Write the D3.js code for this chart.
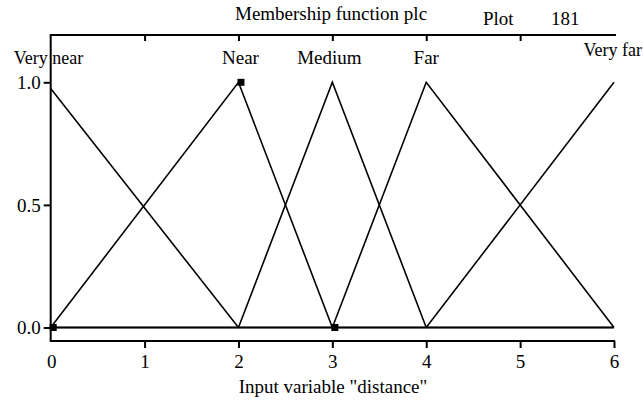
<!DOCTYPE html>
<html>
<head>
<meta charset="utf-8">
<script src="https://cdn.jsdelivr.net/npm/d3@7"></script>
<style>
  html, body { margin: 0; padding: 0; background: #fff; }
  svg { display: block; }
  text { font-family: "Liberation Serif", "Times New Roman", serif; fill: #000; }
</style>
</head>
<body>
<svg id="chart" width="644" height="404"></svg>
<script>
// Membership functions of the input variable "distance" (breakpoints x, membership y)
const setNames = ["Very near", "Near", "Medium", "Far", "Very far"];
const veryNearX = [0, 2, 6];
const veryNearY = [0.975, 0, 0];
const nearX = [0, 2, 3, 6];
const nearY = [0, 1, 0, 0];
const mediumX = [0, 2, 3, 4, 6];
const mediumY = [0, 0, 1, 0, 0];
const farX = [0, 3, 4, 6];
const farY = [0, 0, 1, 0];
const veryFarX = [0, 4, 6];
const veryFarY = [0, 0, 1];
// Label position of each set name along the x axis
const nameAt = [0, 2, 3, 4, 6];

const xTicksBottom = [1, 2, 3, 4, 5, 6];
const xTicksTop = [1, 2, 3, 4, 5];
const yTicks = [0, 0.5, 1];

const titleText = "Membership function plc";
const plotLabel = "Plot";
const plotNumber = "181";
const xTitle = 'Input variable "distance"';

const fontSize = "19px";
const svg = d3.select("#chart");
const x = d3.scaleLinear().domain([0, 6]).range([50.7, 614]);
const y = d3.scaleLinear().domain([0, 1]).range([327.5, 82.3]);
const frameTop = 35, frameBottom = 341, frameRight = 616;

// Frame lines
const frame = svg.append("g").attr("stroke", "#000").attr("stroke-width", 2).attr("fill", "none");
frame.append("line").attr("x1", x(0)).attr("x2", x(0)).attr("y1", frameTop - 1).attr("y2", frameBottom + 1);
frame.append("line").attr("x1", x(0)).attr("x2", x(6) + 1).attr("y1", frameBottom).attr("y2", frameBottom);
frame.append("line").attr("x1", x(0)).attr("x2", frameRight).attr("y1", frameTop).attr("y2", frameTop);

// Bottom axis
const xAxis = svg.append("g")
  .attr("transform", `translate(0,${frameBottom})`)
  .call(d3.axisBottom(x).tickValues(xTicksBottom).tickSize(7).tickSizeOuter(0).tickFormat(d3.format("d")));
xAxis.select(".domain").remove();
xAxis.selectAll(".tick line").attr("stroke", "#000").attr("stroke-width", 2);
xAxis.selectAll(".tick text").attr("y", 27).attr("dy", 0).style("font-size", fontSize)
  .style("font-family", "Liberation Serif, serif");
// the 0 label sits under the corner, without a tick mark
xAxis.append("text").attr("x", x(0) + 1).attr("y", 27).attr("text-anchor", "middle")
  .style("font-size", fontSize).style("font-family", "Liberation Serif, serif").text("0");

// Top axis: inner ticks only
const topAxis = svg.append("g")
  .attr("transform", `translate(0,${frameTop})`)
  .call(d3.axisBottom(x).tickValues(xTicksTop).tickSize(6).tickSizeOuter(0).tickFormat(""));
topAxis.select(".domain").remove();
topAxis.selectAll(".tick line").attr("stroke", "#000").attr("stroke-width", 2);

// Left axis
const yAxis = svg.append("g")
  .attr("transform", `translate(${x(0)},0)`)
  .call(d3.axisLeft(y).tickValues(yTicks).tickSize(7).tickSizeOuter(0).tickFormat(d3.format(".1f")));
yAxis.select(".domain").remove();
yAxis.selectAll(".tick line").attr("stroke", "#000").attr("stroke-width", 2);
yAxis.selectAll(".tick text").attr("x", -10).attr("dy", "0.34em").style("font-size", fontSize)
  .style("font-family", "Liberation Serif, serif");

// Membership function lines
const sets = [
  { xs: veryNearX, ys: veryNearY },
  { xs: nearX, ys: nearY },
  { xs: mediumX, ys: mediumY },
  { xs: farX, ys: farY },
  { xs: veryFarX, ys: veryFarY }
];
const line = d3.line().x(d => x(d[0])).y(d => y(d[1]));
svg.append("g").selectAll("path").data(sets).join("path")
  .attr("d", s => line(s.xs.map((v, i) => [v, s.ys[i]])))
  .attr("fill", "none").attr("stroke", "#000").attr("stroke-width", 1.6)
  .attr("stroke-linejoin", "miter");

// Square markers on the vertices of "Near"
const nearPts = nearX.slice(0, 3).map((v, i) => [v, nearY[i]]);
svg.append("g").selectAll("rect").data(nearPts).join("rect")
  .attr("x", d => x(d[0]) + 2.5 - 3.5).attr("y", d => y(d[1]) - 3.5)
  .attr("width", 7).attr("height", 7).attr("fill", "#000");

// Set names above their peaks
const nameG = svg.append("g").style("font-size", fontSize);
nameG.append("text").attr("x", x(nameAt[0]) - 37).attr("y", 64).style("font-size", "18px").text(setNames[0]);
const nameDx = [0, 2, -3, 0];
[1, 2, 3].forEach(i => {
  nameG.append("text").attr("x", x(nameAt[i]) + nameDx[i]).attr("y", 64)
    .attr("text-anchor", "middle").text(setNames[i]);
});
nameG.append("text").attr("x", 642).attr("y", 56).attr("text-anchor", "end")
  .style("font-size", "18px").text(setNames[4]);

// Titles
svg.append("text").attr("x", 235).attr("y", 20).style("font-size", fontSize).text(titleText);
svg.append("text").attr("x", 483).attr("y", 25).style("font-size", fontSize).text(plotLabel);
svg.append("text").attr("x", 551).attr("y", 25).style("font-size", fontSize).text(plotNumber);
svg.append("text").attr("x", 333).attr("y", 393).attr("text-anchor", "middle")
  .style("font-size", fontSize).text(xTitle);
</script>
</body>
</html>
